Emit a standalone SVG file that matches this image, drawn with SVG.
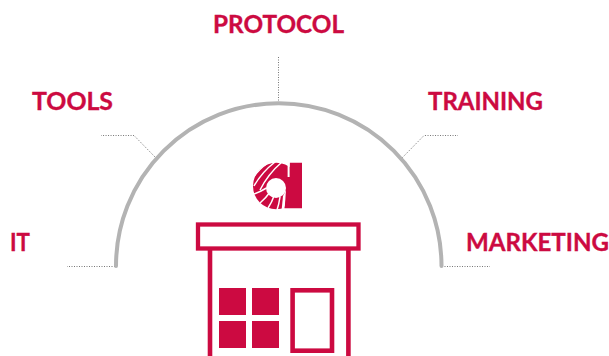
<svg xmlns="http://www.w3.org/2000/svg" width="609" height="356" viewBox="0 0 609 356">
<style>
.l{font-family:"Lato","Liberation Sans",sans-serif;font-weight:700;font-size:24px;fill:#cc0a41;stroke:#cc0a41;stroke-width:.35}
.d{fill:none;stroke:#777;stroke-width:1;stroke-dasharray:1 1.5}
.r{fill:#cc0a41}
.o{fill:none;stroke:#cc0a41}
.s{fill:none;stroke:#fff;stroke-width:1.5}
</style>
<rect width="609" height="356" fill="#fff"/>
<g id="connectors">
<path class="d" d="M115 266.500H67"/>
<path class="d" d="M155 157L134 135.500H101"/>
<path class="d" d="M278.500 103V56"/>
<path class="d" d="M402 158L424 135.500H458"/>
<path class="d" d="M442 266.500H490"/>
</g>
<g id="arch"><path d="M116 266A162.700 162.700 0 0 1 441.500 266" fill="none" stroke="#b3b3b3" stroke-width="4" stroke-linecap="round"/></g>
<g id="node-it"><text class="l" x="10" y="251" textLength="20" lengthAdjust="spacingAndGlyphs">IT</text></g>
<g id="node-tools"><text class="l" x="32" y="110" textLength="81" lengthAdjust="spacingAndGlyphs">TOOLS</text></g>
<g id="node-protocol"><text class="l" x="213" y="33" textLength="131" lengthAdjust="spacingAndGlyphs">PROTOCOL</text></g>
<g id="node-training"><text class="l" x="428" y="110" textLength="115" lengthAdjust="spacingAndGlyphs">TRAINING</text></g>
<g id="node-marketing"><text class="l" x="466" y="251" textLength="143" lengthAdjust="spacingAndGlyphs">MARKETING</text></g>
<g id="logo">
<circle class="r" cx="276.300" cy="186" r="23.300"/>
<path class="s" d="M253 178Q259 169 268 163"/>
<path class="s" d="M254 186Q262 172 275 162"/>
<path class="s" d="M260 190Q268 174 282 162"/>
<path class="s" d="M254 194Q260 192 266.500 188"/>
<path class="s" d="M260 203Q266 198 270 192"/>
<path class="s" d="M268 208Q272 202 274 196"/>
<path class="s" d="M277 210Q279 204 280 197"/>
<path d="M286 190L283 196L281.500 211H284.500Z" fill="#fff"/>
<circle cx="276" cy="188" r="10" fill="#fff"/>
<path class="r" d="M289.700 162.700H302V208.300H284.500Q287 200 286.500 192L289.700 180Z"/>
<path d="M288.600 161V177" fill="none" stroke="#fff" stroke-width="2"/>
</g>
<g id="house">
<rect class="o" x="198" y="224.500" width="160.500" height="24" stroke-width="4.300"/>
<path class="o" d="M210 249V356M348.400 249V356" stroke-width="4.600"/>
<rect class="r" x="219" y="288" width="27" height="27"/>
<rect class="r" x="252" y="288" width="27" height="27"/>
<rect class="r" x="219" y="321" width="27" height="27"/>
<rect class="r" x="252" y="321" width="27" height="27"/>
<rect class="o" x="292.600" y="290.300" width="39.400" height="60.400" stroke-width="4.600"/>
</g>
</svg>
